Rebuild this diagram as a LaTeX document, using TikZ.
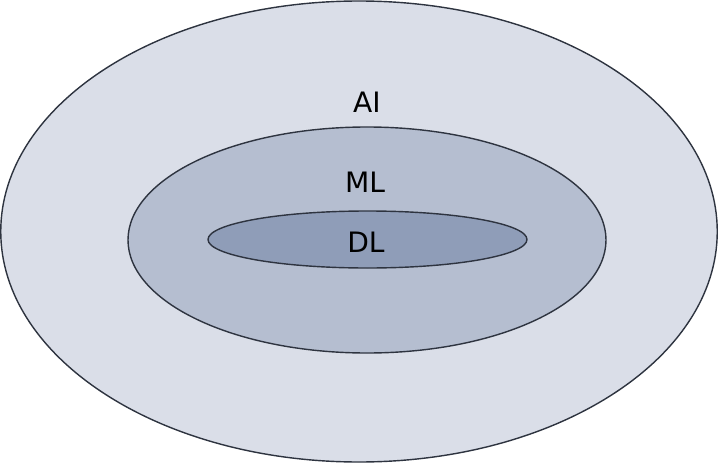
\documentclass[tikz,border=0pt]{standalone}
\usepackage{fontspec}
\setmainfont{DejaVu Sans}
\usetikzlibrary{shapes.geometric}
\definecolor{OuterFill}{HTML}{DADEE8}
\definecolor{MidFill}{HTML}{B5BED0}
\definecolor{InnerFill}{HTML}{8F9DB8}
\definecolor{Rim}{HTML}{2E3440}
\begin{document}
\begin{tikzpicture}[
    set/.style={ellipse,draw=Rim,line width=0.8pt,inner sep=0pt,outer sep=0pt},
    tag/.style={font=\fontsize{16}{19}\selectfont,text=black,inner sep=0pt}
  ]
    \useasboundingbox (0,0) rectangle (14.38,9.26);
    \node[set,fill=OuterFill,minimum width=14.33cm,minimum height=9.22cm] (ai) at (7.18,4.63) {};
    \node[set,fill=MidFill,minimum width=9.56cm,minimum height=4.52cm] (ml) at (7.34,4.46) {};
    \node[set,fill=InnerFill,minimum width=6.38cm,minimum height=1.14cm] (dl) at (7.35,4.47) {};
    \node[tag] (ailab) at (7.34,7.22) {AI};
    \node[tag] (mllab) at (7.30,5.62) {ML};
    \node[tag] (dllab) at (7.32,4.42) {DL};
  \end{tikzpicture}
\end{document}
